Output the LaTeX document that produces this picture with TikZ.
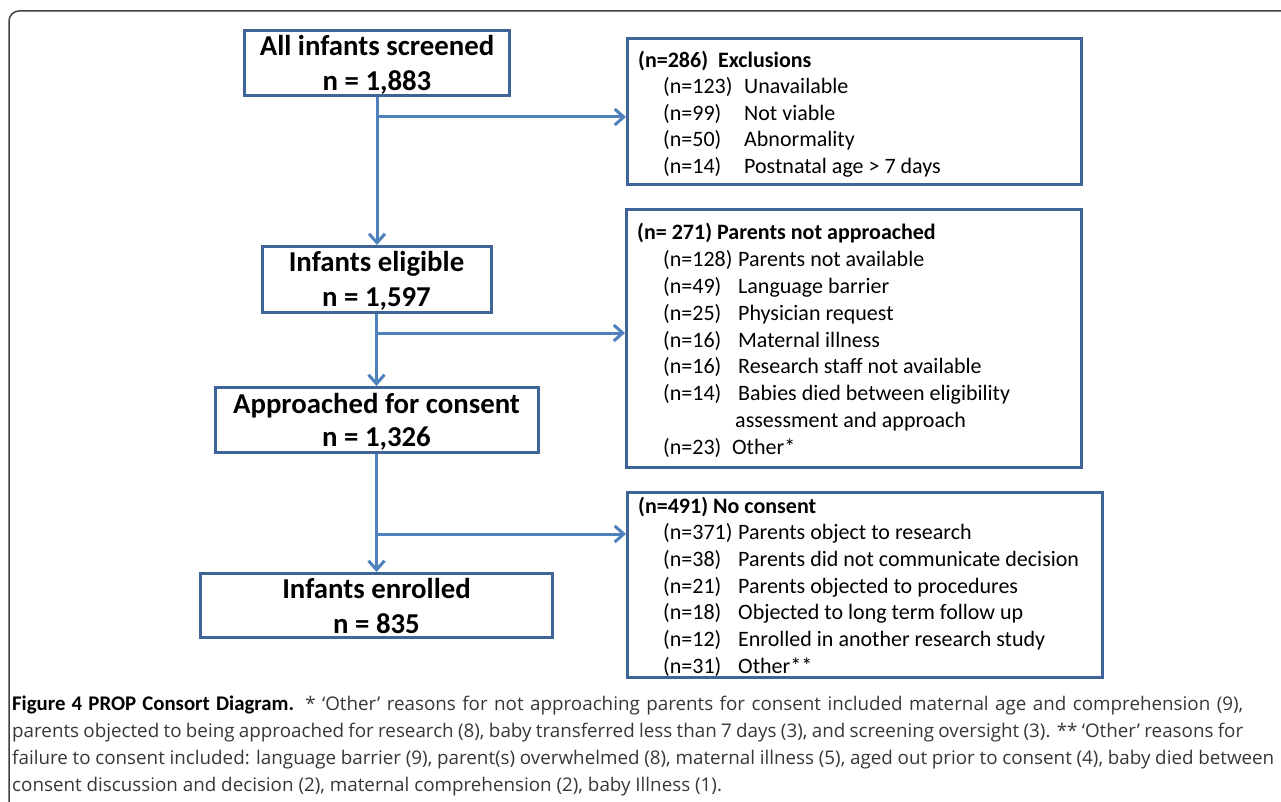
\documentclass[tikz,border=0pt]{standalone}
\usepackage{fontspec}
\setmainfont{Carlito}
\newfontfamily\capfont{Open Sans}
\usetikzlibrary{arrows.meta}
\definecolor{boxblue}{RGB}{62,100,152}
\definecolor{arrblue}{RGB}{79,129,189}
\definecolor{capgray}{RGB}{55,55,55}
\begin{document}
\begin{tikzpicture}[x=1pt,y=-1pt,
  mainbox/.style={draw=boxblue, line width=3pt, inner sep=0pt, fill=white},
  titletext/.style={anchor=base, inner sep=0pt, font=\fontsize{28.8}{32}\selectfont\bfseries},
  rowtext/.style={anchor=base west, inner sep=0pt, font=\fontsize{22}{26}\selectfont},
  capt/.style={anchor=base west, inner sep=0pt, font=\capfont\fontsize{18.8}{22}\selectfont, text=capgray},
  flow/.style={draw=arrblue, line width=3pt},
  arr/.style={flow, -{Straight Barb[length=9pt, width=16pt]}}
]
\useasboundingbox (0,0) rectangle (1281,802);
\clip (0,0) rectangle (1281,802);
\fill[white] (0,0) rectangle (1281,802);
% outer frame
\draw[black!75, line width=1.5pt, rounded corners=10pt] (9,11) rectangle (1310,840);

% main boxes
\node[mainbox, minimum width=265pt, minimum height=65pt] (b1) at (377,63) {};
\node[mainbox, minimum width=229pt, minimum height=66pt] (b2) at (376.5,279.5) {};
\node[mainbox, minimum width=323pt, minimum height=65pt] (b3) at (376.5,420) {};
\node[mainbox, minimum width=352pt, minimum height=64pt] (b4) at (376.5,605.5) {};

\node[titletext] (b1a) at (377,56) {All infants screened};
\node[titletext] (b1b) at (377,90.7) {n = 1,883};
\node[titletext] (b2a) at (376.5,271) {Infants eligible};
\node[titletext] (b2b) at (376.5,306.7) {n = 1,597};
\node[titletext] (b3a) at (376.5,413.3) {Approached for consent};
\node[titletext] (b3b) at (376.5,446.7) {n = 1,326};
\node[titletext] (b4a) at (376.5,598.3) {Infants enrolled};
\node[titletext] (b4b) at (376.5,633.3) {n = 835};

% side boxes
\node[mainbox, minimum width=454pt, minimum height=146pt] (ex) at (854.5,111.5) {};
\node[mainbox, minimum width=455pt, minimum height=258pt] (pa) at (854,338.5) {};
\node[mainbox, minimum width=475pt, minimum height=185pt] (nc) at (865,585) {};

% exclusions text
\node[rowtext] (ex0) at (638,67.7) {\textbf{(n=286)\ \ Exclusions}};
\node[rowtext] (ex1) at (663,94) {\makebox[81pt][l]{(n=123)}Unavailable};
\node[rowtext] (ex2) at (663,120.3) {\makebox[81pt][l]{(n=99)}Not viable};
\node[rowtext] (ex3) at (663,146.7) {\makebox[81pt][l]{(n=50)}Abnormality};
\node[rowtext] (ex4) at (663,173.3) {\makebox[81pt][l]{(n=14)}Postnatal age > 7 days};

% parents not approached text
\node[rowtext] (pa0) at (637,239.3) {\textbf{(n= 271) Parents not approached}};
\node[rowtext] (pa1) at (663,266.7) {\makebox[75pt][l]{(n=128)}Parents not available};
\node[rowtext] (pa2) at (663,293.6) {\makebox[75pt][l]{(n=49)}Language barrier};
\node[rowtext] (pa3) at (663,320.5) {\makebox[75pt][l]{(n=25)}Physician request};
\node[rowtext] (pa4) at (663,347.2) {\makebox[75pt][l]{(n=16)}Maternal illness};
\node[rowtext] (pa5) at (663,373.9) {\makebox[75pt][l]{(n=16)}Research staff not available};
\node[rowtext] (pa6) at (663,400.6) {\makebox[75pt][l]{(n=14)}Babies died between eligibility};
\node[rowtext] (pa7) at (735,427.5) {assessment and approach};
\node[rowtext] (pa8) at (663,454.3) {\makebox[69pt][l]{(n=23)}Other*};

% no consent text
\node[rowtext] (nc0) at (638,513.3) {\textbf{(n=491) No consent}};
\node[rowtext] (nc1) at (663,539.6) {\makebox[75pt][l]{(n=371)}Parents object to research};
\node[rowtext] (nc2) at (663,566.3) {\makebox[75pt][l]{(n=38)}Parents did not communicate decision};
\node[rowtext] (nc3) at (663,593.0) {\makebox[75pt][l]{(n=21)}Parents objected to procedures};
\node[rowtext] (nc4) at (663,619.7) {\makebox[75pt][l]{(n=18)}Objected to long term follow up};
\node[rowtext] (nc5) at (663,646.4) {\makebox[75pt][l]{(n=12)}Enrolled in another research study};
\node[rowtext] (nc6) at (663,673.0) {\makebox[75pt][l]{(n=31)}Other**};

% connectors
\coordinate (j1) at (377,117);
\coordinate (j2) at (376.5,333);
\coordinate (j3) at (376.5,534);
\draw[arr] (b1.south) -- (b1.south |- b2.north);
\draw[arr] (b2.south) -- (b3.north);
\draw[arr] (b3.south) -- (b4.north);
\draw[arr] (j1) -- (j1 -| ex.west);
\draw[arr] (j2) -- (j2 -| pa.west);
\draw[arr] (j3) -- (j3 -| nc.west);

% caption
\node[capt] (c1) at (12,710) {\makebox[1231pt][s]{{\rmfamily\bfseries\fontsize{20.8}{22}\selectfont\color{black}Figure 4 PROP Consort Diagram.} * ‘Other’ reasons for not approaching parents for consent included maternal age and comprehension (9),}};
\node[capt] (c2) at (12,737) {\makebox[1231pt][s]{parents objected to being approached for research (8), baby transferred less than 7 days (3), and screening oversight (3). ** ‘Other’ reasons for}};
\node[capt] (c3) at (12,764) {\makebox[1262pt][s]{failure to consent included: language barrier (9), parent(s) overwhelmed (8), maternal illness (5), aged out prior to consent (4), baby died between}};
\node[capt] (c4) at (12,791) {consent discussion and decision (2), maternal comprehension (2), baby Illness (1).};
\end{tikzpicture}
\end{document}
